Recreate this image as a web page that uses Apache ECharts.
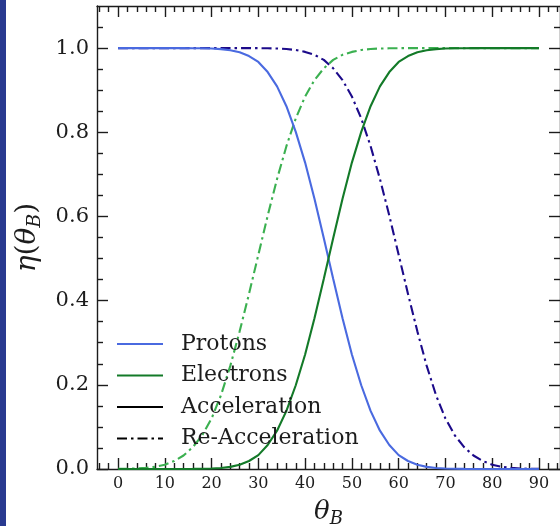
<!DOCTYPE html>
<html>
<head>
<meta charset="utf-8">
<script src="https://cdn.jsdelivr.net/npm/echarts@6/dist/echarts.min.js"></script>
<style>html,body{margin:0;padding:0;background:#fff;}#c{width:560px;height:526px;}</style>
</head>
<body>
<div id="c"></div>
<script>
// ---- data ----
const thetas = [0,2,4,6,8,10,12,14,16,18,20,22,24,26,28,30,32,34,36,38,40,42,44,46,48,50,52,54,56,58,60,62,64,66,68,70,72,74,76,78,80,82,84,86,88,90];
const protonAcc = [1,1,1,1,1,1,1,0.9999,0.9998,0.9995,0.9989,0.9975,0.995,0.990,0.981,0.967,0.943,0.909,0.862,0.801,0.728,0.642,0.548,0.452,0.358,0.272,0.199,0.138,0.091,0.057,0.033,0.019,0.010,0.005,0.0025,0.0011,0.0005,0.0002,0.0001,0,0,0,0,0,0,0];
const electronAcc = [0,0,0,0,0,0,0,0.0001,0.0002,0.0005,0.0011,0.0025,0.005,0.010,0.019,0.033,0.057,0.091,0.138,0.199,0.272,0.358,0.452,0.548,0.642,0.728,0.801,0.862,0.909,0.943,0.967,0.981,0.990,0.995,0.9975,0.9989,0.9995,0.9998,0.9999,1,1,1,1,1,1,1];
const electronReAcc = [0.0002,0.0005,0.0012,0.0026,0.0052,0.010,0.019,0.032,0.052,0.080,0.12,0.175,0.245,0.327,0.416,0.509,0.602,0.689,0.767,0.833,0.885,0.924,0.952,0.972,0.984,0.991,0.9955,0.9978,0.999,0.9995,0.9998,1,1,1,1,1,1,1,1,1,1,1,1,1,1,1];
const protonReAcc = [1,1,1,1,1,1,1,1,1,1,1,1,1,1,1,0.9998,0.9995,0.999,0.9978,0.9955,0.991,0.984,0.972,0.952,0.924,0.885,0.833,0.767,0.689,0.602,0.509,0.416,0.327,0.245,0.175,0.12,0.080,0.052,0.032,0.019,0.010,0.0052,0.0026,0.0012,0.0005,0.0002];

const xMajorTicks = [0,10,20,30,40,50,60,70,80,90];
const xMinorTicks = [-4,-2,2,4,6,8,12,14,16,18,22,24,26,28,32,34,36,38,42,44,46,48,52,54,56,58,62,64,66,68,72,74,76,78,82,84,86,88,92,94];
const yMajorTicks = [0,0.2,0.4,0.6,0.8,1.0];
const yMinorTicks = [0.05,0.1,0.15,0.25,0.3,0.35,0.45,0.5,0.55,0.65,0.7,0.75,0.85,0.9,0.95,1.05];
const X_MIN = -4.5, X_MAX = 94.5, Y_MIN = 0, Y_MAX = 1.1;

const legendNames = ['Protons','Electrons','Acceleration','Re-Acceleration'];

// ---- chart ----
const SERIF = 'DejaVu Serif';
const INK = '#1c1c1c';
const DASHDOT = [10,4,2.5,4];
const pairs = v => thetas.map((t,i)=>[t,v[i]]);

function xAx(pos, major){
  return {
    type:'value', min:X_MIN, max:X_MAX, position:pos,
    axisLine:{show:major, onZero:false, lineStyle:{color:INK,width:1.4}},
    axisTick:{show:true, inside:true, length: major?11:6, customValues: major?xMajorTicks:xMinorTicks, lineStyle:{color:INK,width:1.4}},
    axisLabel:{show: major && pos==='bottom', customValues:xMajorTicks, fontFamily:SERIF, fontSize:16, color:INK, margin:7},
    splitLine:{show:false}
  };
}
function yAx(pos, major){
  return {
    type:'value', min:Y_MIN, max:Y_MAX, position:pos,
    axisLine:{show:major, onZero:false, lineStyle:{color:INK,width:1.4}},
    axisTick:{show:true, inside:true, length: major?11:6, customValues: major?yMajorTicks:yMinorTicks, lineStyle:{color:INK,width:1.4}},
    axisLabel:{show: major && pos==='left', customValues:yMajorTicks, fontFamily:SERIF, fontSize:21, color:INK, margin:8,
      formatter: v => v.toFixed(1)},
    splitLine:{show:false}
  };
}
const xAxes = [xAx('bottom',true), xAx('bottom',false), xAx('top',true), xAx('top',false)];
xAxes[0].name = '{it|θ}{sub|B}';
xAxes[0].nameLocation = 'middle';
xAxes[0].nameGap = 27;
xAxes[0].nameTextStyle = {rich:{
  it:{fontFamily:SERIF, fontStyle:'italic', fontSize:26, color:INK},
  sub:{fontFamily:SERIF, fontStyle:'italic', fontSize:18, color:INK, padding:[14,0,0,0]}
}};
const yAxes = [yAx('left',true), yAx('left',false), yAx('right',true), yAx('right',false)];
yAxes[0].name = '{it|η}{up|(}{it|θ}{sub|B}{up|)}';
yAxes[0].nameLocation = 'middle';
yAxes[0].nameGap = 50;
yAxes[0].nameTextStyle = {rich:{
  it:{fontFamily:SERIF, fontStyle:'italic', fontSize:28, color:INK},
  up:{fontFamily:SERIF, fontSize:28, color:INK},
  sub:{fontFamily:SERIF, fontStyle:'italic', fontSize:19, color:INK, padding:[15,0,0,0]}
}};

function line(name, data, color, dashed, z){
  return {
    type:'line', name:name, data:data, xAxisIndex:0, yAxisIndex:0,
    symbol:'none', showSymbol:false, smooth:false, z:z||2,
    lineStyle:{color:color, width:2.1, type: dashed?DASHDOT:'solid'},
    itemStyle:{color:color}, emphasis:{disabled:true}, silent:true, animation:false
  };
}

const chart = echarts.init(document.getElementById('c'), null, {renderer:'canvas'});
chart.setOption({
  animation:false,
  backgroundColor:'#ffffff',
  grid:{left:97, top:6, right:0, bottom:57, containLabel:false, outerBoundsMode:'none'},
  xAxis:xAxes,
  yAxis:yAxes,
  legend:{
    data:legendNames, orient:'vertical', left:116, top:333, padding:0,
    itemWidth:46, itemHeight:14, itemGap:9.5, selectedMode:false,
    itemStyle:{color:'rgba(0,0,0,0)', borderWidth:0, opacity:0},
    textStyle:{fontFamily:SERIF, fontSize:22, color:INK, lineHeight:22, padding:[0,0,0,13]}
  },
  graphic:[{type:'rect', left:0, top:0, shape:{width:6, height:526}, style:{fill:'#293a90'}, silent:true}],
  series:[
    line('Protons', pairs(protonAcc), '#4a6ae0', false, 3),
    line('Electrons', pairs(electronAcc), '#137a28', false, 3),
    line('Acceleration', [], '#000000', false),
    line('Re-Acceleration', [], '#000000', true),
    line('Electrons Re-Acceleration', pairs(electronReAcc), '#3bb050', true, 2),
    line('Protons Re-Acceleration', pairs(protonReAcc), '#1c0a8a', true, 2)
  ]
});
</script>
</body>
</html>
